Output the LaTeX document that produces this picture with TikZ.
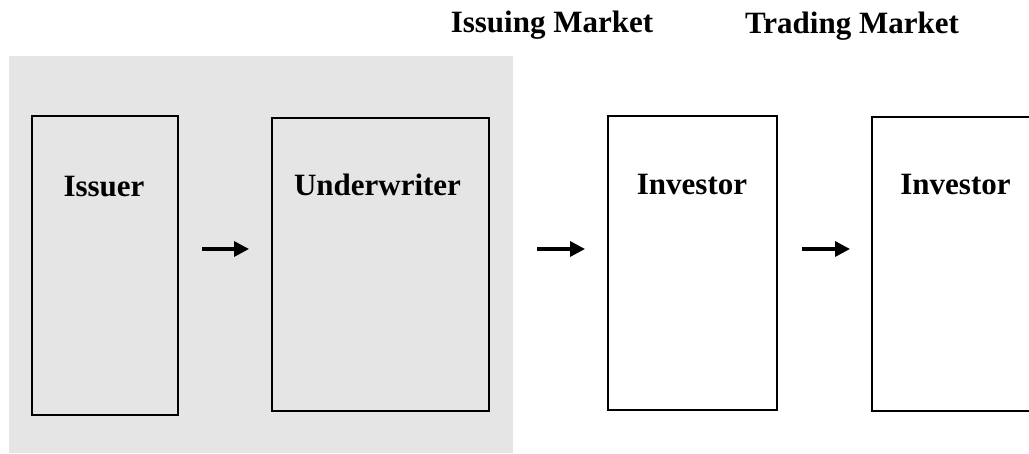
\documentclass[tikz,border=0pt]{standalone}
\usepackage{fontspec}
\setmainfont{Liberation Serif}
\usetikzlibrary{arrows.meta}
\definecolor{panelgray}{RGB}{229,229,229}
\tikzset{
  box/.style={draw=black, line width=2pt, inner sep=0pt, fill=none},
  lbl/.style={font=\fontsize{31}{36}\selectfont\bfseries, anchor=base, inner sep=0pt},
  arr/.style={line width=3.4pt, -{Triangle[length=15pt 0 0,width=15pt 0 0]}}
}
\begin{document}
\begin{tikzpicture}[x=1pt, y=-1pt]
  \useasboundingbox (0,0) rectangle (1029,454);
  \clip (0,0) rectangle (1029,454);
  % shaded panel behind the issuing side
  \fill[panelgray] (9,56) rectangle (513,453);

  % column headings
  \node[lbl] (hissue) at (552,33) {Issuing Market};
  \node[lbl] (htrade) at (852,34) {Trading Market};

  % participant boxes
  \node[box, minimum width=146pt, minimum height=299pt] (issuer) at (105,265.5) {};
  \node[box, minimum width=217pt, minimum height=293pt] (under)  at (380.5,264.5) {};
  \node[box, minimum width=169pt, minimum height=294pt] (inv1)   at (692.5,263) {};
  \node[box, minimum width=167pt, minimum height=294pt] (inv2)   at (955.5,264) {};

  % box captions
  \node[lbl] (tissuer) at (104,196.5) {Issuer};
  \node[lbl] (tunder)  at (377.5,196) {Underwriter};
  \node[lbl] (tinv1)   at (692,194.5) {Investor};
  \node[lbl] (tinv2)   at (955.5,194.5) {Investor};

  % flow arrows
  \coordinate (ay) at (0,249);
  \draw[arr, shorten <=23pt, shorten >=22pt] (issuer.east |- ay) -- (under.west |- ay);
  \draw[arr, shorten <=47pt, shorten >=22pt] (under.east |- ay) -- (inv1.west |- ay);
  \draw[arr, shorten <=24pt, shorten >=21pt] (inv1.east |- ay) -- (inv2.west |- ay);
\end{tikzpicture}
\end{document}
